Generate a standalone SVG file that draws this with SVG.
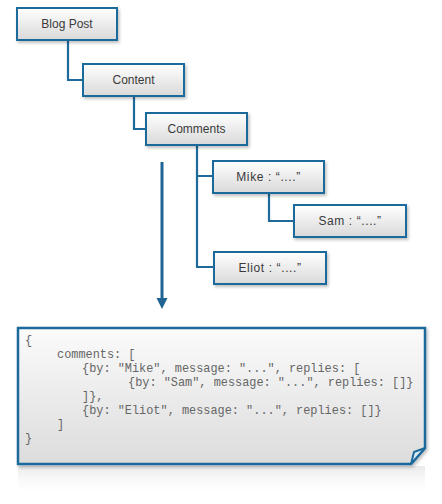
<svg xmlns="http://www.w3.org/2000/svg" width="442" height="504" viewBox="0 0 442 504">
<defs>
<linearGradient id="nodeFill" x1="0" y1="0" x2="0" y2="1">
<stop offset="0" stop-color="#ffffff"/>
<stop offset="1" stop-color="#d9d9d9"/>
</linearGradient>
<linearGradient id="codeFill" x1="0" y1="0" x2="0" y2="1">
<stop offset="0" stop-color="#fbfbfb"/>
<stop offset="1" stop-color="#dcdcdc"/>
</linearGradient>
<linearGradient id="reflect" x1="0" y1="0" x2="0" y2="1">
<stop offset="0" stop-color="#e4e4e4" stop-opacity="0.8"/>
<stop offset="1" stop-color="#ffffff" stop-opacity="0"/>
</linearGradient>
<filter id="shadow" x="-10%" y="-20%" width="130%" height="160%">
<feDropShadow dx="1.5" dy="2" stdDeviation="1.5" flood-color="#000" flood-opacity="0.25"/>
</filter>
</defs>
<style>
.node rect { fill: url(#nodeFill); stroke: #1e6a9c; stroke-width: 2; filter: url(#shadow); }
.node text { font-family: "Liberation Sans", Arial, sans-serif; font-size: 12px; fill: #3a3a3a; text-anchor: middle; }
.quote { letter-spacing: 0.6px; }
.conn { fill: none; stroke: #1e6a9c; stroke-width: 2.2; }
.code { font-family: "Liberation Mono", "Courier New", monospace; font-size: 11.9px; fill: #666; white-space: pre; }
</style>
<rect width="442" height="504" fill="#ffffff"/>
<g id="connectors">
<path class="conn" d="M68,40 V80 H83"/>
<path class="conn" d="M134,96 V129 H146"/>
<path class="conn" d="M197,145 V267 H214 M197,176 H213"/>
<path class="conn" d="M269,193 V221 H294"/>
<line x1="162" y1="162" x2="162" y2="302" stroke="#1f6493" stroke-width="3"/>
<path d="M156.5,298 L167.5,298 L162,309 Z" fill="#1f6493"/>
</g>
<g id="blogpost" class="node"><rect x="17" y="8" width="100" height="32"/><text x="67" y="28">Blog Post</text></g>
<g id="content" class="node"><rect x="83" y="64" width="101" height="32"/><text x="133.5" y="84">Content</text></g>
<g id="comments" class="node"><rect x="146" y="113" width="101" height="32"/><text x="196.5" y="133">Comments</text></g>
<g id="mike" class="node"><rect x="213" y="161" width="111" height="32"/><text class="quote" x="268.5" y="181">Mike : “....”</text></g>
<g id="sam" class="node"><rect x="294" y="205" width="112" height="32"/><text class="quote" x="350" y="225">Sam : “....”</text></g>
<g id="eliot" class="node"><rect x="214" y="252" width="112" height="32"/><text class="quote" x="270" y="272">Eliot : “....”</text></g>
<g id="code">
<rect x="18" y="466" width="407" height="30" fill="url(#reflect)"/>
<path d="M18,328 H425 V448 L411,464 H18 Z" fill="url(#codeFill)" stroke="#1e6a9c" stroke-width="2.5" filter="url(#shadow)"/>
<path d="M425,448 L414,452 L411,464 Z" fill="#dcebf5" stroke="#1e6a9c" stroke-width="2" stroke-linejoin="round"/>
<text class="code" x="25" y="344">{</text>
<text class="code" x="57" y="358">comments: [</text>
<text class="code" x="82" y="372">{by: "Mike", message: "...", replies: [</text>
<text class="code" x="128" y="386">{by: "Sam", message: "...", replies: []}</text>
<text class="code" x="82" y="400">]},</text>
<text class="code" x="82" y="414">{by: "Eliot", message: "...", replies: []}</text>
<text class="code" x="57" y="428">]</text>
<text class="code" x="25" y="442">}</text>
</g>
</svg>
